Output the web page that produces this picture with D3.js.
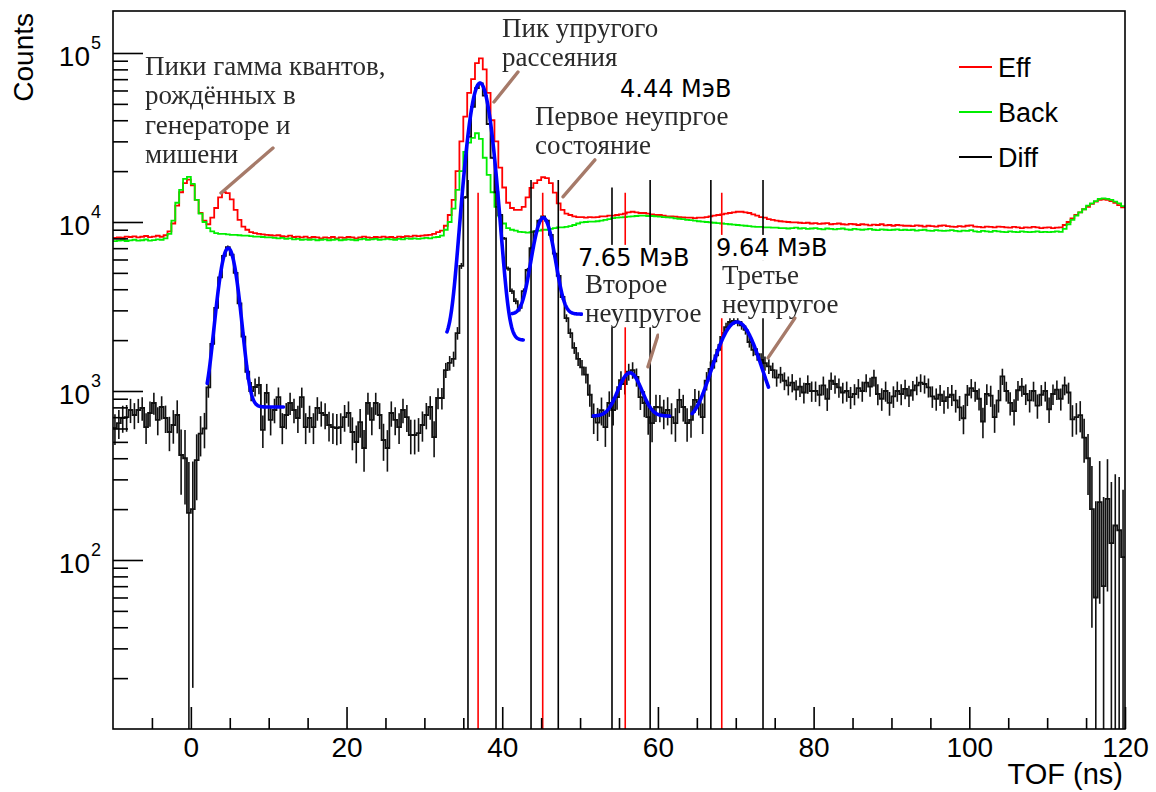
<!DOCTYPE html>
<html>
<head>
<meta charset="utf-8">
<script src="https://cdn.jsdelivr.net/npm/d3@7"></script>
<style>
  html, body { margin: 0; padding: 0; background: #fff; }
  svg { display: block; }
</style>
</head>
<body>
<svg id="chart" width="1156" height="792"></svg>
<script>
// Histogram binning (ns)
const binStart = -10;
const binWidth = 0.5;

// Eff spectrum, counts per 0.5 ns bin, -10 .. 120 ns (20 bins per row)
const effCounts = [
  8050, 8120, 8080, 8200, 8150, 8230, 8100, 8180, 8260, 8140, 8200, 8290, 8180, 8350, 8800, 9800, 12500, 15000, 17000, 17800,
  16500, 13500, 11300, 10200, 9700, 10600, 12100, 14000, 15000, 14800, 13600, 11800, 10300, 9400, 9000, 8700, 8600, 8500, 8450, 8400,
  8350, 8300, 8350, 8250, 8200, 8300, 8150, 8200, 8100, 8200, 8050, 8150, 8100, 8000, 8100, 8050, 8150, 8000, 8100, 8050,
  8150, 8100, 8000, 8100, 8200, 8100, 8050, 8150, 8100, 8200, 8100, 8150, 8050, 8200, 8150, 8250, 8200, 8300, 8250, 8300,
  8350, 8400, 8500, 8700, 8900, 9500, 11000, 13500, 20000, 30000, 42000, 58000, 70000, 87000, 93000, 80000, 58000, 40000, 30000, 21000,
  16000, 13000, 12100, 11800, 11800, 12300, 14000, 15900, 17000, 17700, 18400, 18200, 17000, 14900, 12900, 11800, 11200, 11000, 10800, 10700,
  10700, 10600, 10700, 10650, 10700, 10800, 10800, 10900, 10900, 11000, 11100, 11200, 11400, 11500, 11400, 11300, 11300, 11200, 11100, 11000,
  11000, 10900, 10800, 10800, 10750, 10700, 10650, 10600, 10600, 10550, 10600, 10600, 10700, 10800, 10900, 11000, 11100, 11200, 11300, 11400,
  11500, 11500, 11400, 11300, 11100, 10900, 10700, 10600, 10400, 10300, 10200, 10100, 10050, 10000, 9950, 9950, 9900, 9850, 9900, 9800,
  9850, 9750, 9800, 9850, 9700, 9750, 9800, 9700, 9650, 9750, 9700, 9600, 9700, 9650, 9550, 9650, 9600, 9700, 9550, 9600,
  9500, 9600, 9550, 9500, 9500, 9450, 9550, 9500, 9400, 9500, 9450, 9400, 9500, 9550, 9450, 9400, 9350, 9450, 9400, 9500,
  9550, 9400, 9350, 9300, 9400, 9350, 9300, 9400, 9350, 9300, 9250, 9350, 9300, 9200, 9300, 9250, 9350, 9300, 9200, 9250,
  9300, 9200, 9250, 9300, 9600, 10000, 10500, 11000, 11400, 11900, 12300, 12800, 13200, 13500, 13600, 13500, 13300, 13000, 12600, 12200
];

// Background spectrum, same binning
const backCounts = [
  7700, 7750, 7800, 7720, 7780, 7850, 7750, 7800, 7880, 7760, 7820, 7900, 7850, 8000, 8500, 10200, 13000, 15500, 18000, 18500,
  16800, 13500, 11200, 10000, 9200, 8800, 8600, 8500, 8500, 8450, 8400, 8400, 8350, 8300, 8300, 8250, 8200, 8200, 8150, 8100,
  8100, 8050, 8000, 8050, 7950, 8000, 7900, 7950, 7850, 7900, 7850, 7900, 7800, 7850, 7900, 7800, 7850, 7900, 7800, 7850,
  7900, 7850, 7800, 7900, 7950, 7850, 7900, 7950, 7850, 7900, 7950, 7900, 7850, 7950, 7900, 8000, 7950, 8000, 7950, 8000,
  8050, 8000, 8100, 8150, 8300, 9000, 10000, 12000, 15500, 20000, 26000, 29500, 31500, 33500, 31000, 24000, 19000, 15000, 12300, 10800,
  9800, 9200, 9000, 8900, 8750, 8700, 8650, 8700, 8800, 8900, 9000, 9000, 9100, 9200, 9300, 9300, 9350, 9450, 9600, 9800,
  9950, 10000, 10050, 10050, 10100, 10200, 10300, 10400, 10550, 10600, 10650, 10700, 10750, 10800, 10850, 10900, 10900, 10850, 10850, 10800,
  10750, 10700, 10650, 10600, 10500, 10450, 10400, 10300, 10250, 10200, 10100, 10050, 10000, 9950, 9900, 9850, 9800, 9750, 9700, 9650,
  9600, 9550, 9500, 9450, 9400, 9350, 9350, 9300, 9300, 9250, 9250, 9200, 9200, 9150, 9200, 9250, 9150, 9200, 9100, 9150,
  9200, 9100, 9050, 9150, 9100, 9050, 9100, 9150, 9050, 9000, 9100, 9050, 9000, 9050, 9100, 9000, 8950, 9050, 9000, 8950,
  9000, 9050, 8950, 9000, 8950, 9000, 8900, 8950, 9000, 8900, 8850, 8950, 8900, 8850, 8900, 8950, 8850, 8800, 8900, 8850,
  8950, 8800, 8750, 8850, 8800, 8750, 8850, 8800, 8750, 8700, 8800, 8750, 8700, 8800, 8750, 8700, 8750, 8800, 8700, 8750,
  8700, 8750, 8800, 8750, 9100, 9700, 10300, 10900, 11400, 11900, 12500, 12900, 13300, 13700, 13800, 13700, 13500, 13200, 12900, 12400
];

// Difference spectrum (Eff - Back), same binning
const diffCounts = [
  604, 646, 692, 700, 772, 721, 772, 793, 612, 741, 849, 674, 804, 692, 572, 629, 721, 418, 400, 190,
  200, 390, 560, 600, 1050, 1900, 3100, 4700, 6300, 7100, 6400, 5000, 3300, 2100, 1300, 1000, 1056, 1085, 588, 973,
  674, 772, 921, 612, 721, 849, 772, 692, 921, 612, 692, 612, 793, 741, 721, 629, 612, 604, 612, 700,
  741, 572, 499, 655, 460, 849, 674, 849, 721, 513, 460, 741, 674, 612, 772, 700, 549, 549, 564, 629,
  721, 804, 534, 909, 909, 1330, 1465, 1550, 2200, 5500, 14000, 32000, 48000, 62000, 66000, 56000, 38000, 24000, 15000, 11000,
  8000, 5300, 3900, 3400, 3100, 3900, 5200, 7000, 8800, 10200, 10800, 10200, 8400, 6500, 4800, 3600, 2700, 2200, 1800, 1550,
  1380, 1250, 950, 700, 650, 770, 612, 849, 772, 921, 1160, 1100, 1300, 1330, 1210, 921, 849, 700, 646, 804,
  800, 741, 772, 700, 646, 885, 804, 646, 674, 885, 860, 700, 1150, 1350, 1500, 1750, 2090, 2390, 2560, 2600,
  2560, 2450, 2300, 1950, 1750, 1650, 1530, 1460, 1400, 1330, 1200, 1250, 1150, 1080, 1120, 1020, 1060, 980, 1100, 1000,
  1000, 950, 1080, 900, 1150, 1100, 1050, 980, 1000, 920, 960, 1040, 1000, 1120, 1060, 1200, 960, 900, 1000, 850,
  930, 1000, 960, 1030, 940, 1010, 1080, 1120, 1100, 1050, 930, 900, 950, 870, 920, 950, 880, 800, 690, 950,
  1040, 1000, 900, 660, 960, 940, 700, 880, 1220, 1000, 850, 760, 1010, 1060, 960, 880, 1000, 820, 950, 1000,
  780, 960, 1020, 900, 1080, 980, 680, 700, 720, 530, 400, 200, 60, 220, 70, 230, 126, 160, 150, 104
];

// Gaussian + constant fits of the Diff peaks
const fitMean  = [4.8, 37.15, 45.27, 56.4, 70.15];
const fitSigma = [1.1, 1.27, 1.16, 1.35, 2.3];
const fitAmp   = [6200, 64400, 7750, 570, 1910];
const fitBase  = [804, 2000, 2850, 711, 650];
const fitFrom  = [2.1, 32.9, 41.3, 51.7, 64.4];
const fitTo    = [11.9, 42.7, 50.2, 61.5, 74.2];

// Integration windows (black) and peak positions (red)
const windowX   = [35.6, 39.2, 43.7, 47.2, 54.1, 59.0, 66.8, 73.5];
const windowTop = [17700, 17700, 17700, 17700, 16000, 17700, 17700, 17700];
const peakX     = [36.9, 45.2, 55.8, 68.2];
const peakTop   = [14900, 14900, 14900, 14900];

// Axis ticks and legend
const xTicksMajor = [0, 20, 40, 60, 80, 100, 120];
const xTicksMinor = [-5, 5, 10, 15, 25, 30, 35, 45, 50, 55, 65, 70, 75, 85, 90, 95, 105, 110, 115];
const yTickExponents = [2, 3, 4, 5];
const legendLabels = ["Eff", "Back", "Diff"];
const legendColors = ["#ff0000", "#00ee00", "#000000"];

// Text annotations (anchor at TOF ns / counts of first baseline)
const notes = [
  { lines: ["Пики гамма квантов,", "рождённых в", "генераторе и", "мишени"], x: -5.89, y: 74100, kind: "serif" },
  { lines: ["Пик упругого", "рассеяния"], x: 39.97, y: 124400, kind: "serif" },
  { lines: ["Первое неупргое", "состояние"], x: 44.21, y: 37500, kind: "serif" },
  { lines: ["Второе", "неупругое"], x: 50.63, y: 3800, kind: "serif" },
  { lines: ["Третье", "неупругое"], x: 68.23, y: 4300, kind: "serif" },
  { lines: ["4.44 МэВ"], x: 55.13, y: 54900, kind: "sans" },
  { lines: ["7.65 МэВ"], x: 49.73, y: 5500, kind: "sans" },
  { lines: ["9.64 МэВ"], x: 67.46, y: 6300, kind: "sans" }
];
// Pointer strokes: [x1, y1, x2, y2] in ns / counts
const pointers = [
  [10.55, 27400, 3.87, 14860],
  [42.02, 77200, 38.94, 51300],
  [51.91, 23300, 47.8, 14100],
  [60.0, 2140, 58.72, 1390],
  [77.6, 2700, 74.14, 1570]
];

// ---------------------------------------------------------------
const W = 1156, H = 792;
const margin = { left: 113, top: 11, right: 31, bottom: 63 };
const SANS = "'Liberation Sans', Arial, Helvetica, sans-serif";
const SERIF = "'Liberation Serif', 'Times New Roman', serif";
const LABEL = "'DejaVu Sans', Verdana, sans-serif";

const svg = d3.select("#chart");
const x = d3.scaleLinear().domain([-10, 120]).range([margin.left, W - margin.right]);
const y = d3.scaleLog().domain([10, 177200]).range([H - margin.bottom, margin.top]);

const defs = svg.append("defs");
defs.append("clipPath").attr("id", "plotClip")
  .append("rect")
  .attr("x", margin.left).attr("y", margin.top)
  .attr("width", W - margin.left - margin.right)
  .attr("height", H - margin.top - margin.bottom);
defs.append("filter").attr("id", "soft")
  .append("feGaussianBlur").attr("stdDeviation", 0.45);

const plot = svg.append("g").attr("clip-path", "url(#plotClip)");

const yc = v => y(Math.max(v, 1));
const stepLine = d3.line().x(d => x(d[0])).y(d => yc(d[1])).curve(d3.curveStepAfter);
function stepPoints(vals) {
  const pts = vals.map((v, i) => [binStart + i * binWidth, v]);
  pts.push([binStart + vals.length * binWidth, vals[vals.length - 1]]);
  return pts;
}

// Eff and Back histograms
plot.append("path").attr("d", stepLine(stepPoints(effCounts)))
  .attr("fill", "none").attr("stroke", legendColors[0]).attr("stroke-width", 1.8);
plot.append("path").attr("d", stepLine(stepPoints(backCounts)))
  .attr("fill", "none").attr("stroke", legendColors[1]).attr("stroke-width", 1.8);

// Diff histogram: statistical error bars + outline
const errG = plot.append("g").attr("stroke", "#111").attr("stroke-width", 1.6);
diffCounts.forEach((v, i) => {
  const err = Math.sqrt(effCounts[i] + backCounts[i]);
  const xc = binStart + (i + 0.5) * binWidth;
  errG.append("line")
    .attr("x1", x(xc)).attr("x2", x(xc))
    .attr("y1", yc(v - err)).attr("y2", yc(v + err));
});
plot.append("path").attr("d", stepLine(stepPoints(diffCounts)))
  .attr("fill", "none").attr("stroke", "#111").attr("stroke-width", 1.8);

// Window and peak markers
windowX.forEach((wx, i) => {
  plot.append("line").attr("x1", x(wx)).attr("x2", x(wx))
    .attr("y1", y(10)).attr("y2", y(windowTop[i]))
    .attr("stroke", "#000").attr("stroke-width", 1.6);
});
peakX.forEach((px, i) => {
  plot.append("line").attr("x1", x(px)).attr("x2", x(px))
    .attr("y1", y(10)).attr("y2", y(peakTop[i]))
    .attr("stroke", "#ff0000").attr("stroke-width", 1.6);
});

// Fit curves
const fitLine = d3.line().x(d => x(d[0])).y(d => y(d[1])).curve(d3.curveLinear);
fitMean.forEach((mu, i) => {
  const ts = d3.range(fitFrom[i], fitTo[i], 0.05).concat([fitTo[i]]);
  const pts = ts.map(t => [t, fitBase[i] + fitAmp[i] * Math.exp(-0.5 * Math.pow((t - mu) / fitSigma[i], 2))]);
  plot.append("path").attr("d", fitLine(pts))
    .attr("fill", "none").attr("stroke", "#0000ff").attr("stroke-width", 3.6)
    .attr("stroke-linecap", "round");
});

// Annotations with white backing
const noteLayer = svg.append("g");
notes.forEach(n => {
  const g = noteLayer.append("g");
  const isSerif = n.kind === "serif";
  const fs = isSerif ? 27 : 24;
  const lh = isSerif ? 29.3 : 28;
  const t = g.append("text")
    .attr("x", x(n.x)).attr("y", y(n.y))
    .attr("font-family", isSerif ? SERIF : LABEL)
    .attr("font-size", fs)
    .attr("fill", isSerif ? "#2a2a2a" : "#000");
  n.lines.forEach((ln, j) => {
    t.append("tspan").attr("x", x(n.x)).attr("dy", j === 0 ? 0 : lh).text(ln);
  });
  if (isSerif) t.attr("filter", "url(#soft)");
  const bb = t.node().getBBox();
  g.insert("rect", "text")
    .attr("x", bb.x - 2).attr("y", bb.y + 1)
    .attr("width", bb.width + 4).attr("height", bb.height - 2)
    .attr("fill", "#fff");
});

// Pointer strokes
pointers.forEach(p => {
  noteLayer.append("line")
    .attr("x1", x(p[0])).attr("y1", y(p[1]))
    .attr("x2", x(p[2])).attr("y2", y(p[3]))
    .attr("stroke", "#a67a69").attr("stroke-width", 3.4)
    .attr("stroke-linecap", "round").attr("filter", "url(#soft)");
});

// Legend
const legend = svg.append("g");
legendLabels.forEach((lab, i) => {
  const ly = 67 + i * 45;
  legend.append("line").attr("x1", 959).attr("x2", 992).attr("y1", ly).attr("y2", ly)
    .attr("stroke", legendColors[i]).attr("stroke-width", 2);
  legend.append("text").attr("x", 998).attr("y", ly + 9.5)
    .attr("font-family", SANS).attr("font-size", 27).attr("fill", "#000").text(lab);
});

// Axes
const axisStyle = g => {
  g.select(".domain").remove();
  g.selectAll(".tick line").attr("stroke", "#000").attr("stroke-width", 1.6);
};
const y0 = H - margin.bottom;

svg.append("g").attr("transform", `translate(0,${y0})`)
  .call(d3.axisBottom(x).tickValues(xTicksMinor).tickSize(-11).tickFormat(""))
  .call(axisStyle);
svg.append("g").attr("transform", `translate(0,${y0})`)
  .call(d3.axisBottom(x).tickValues(xTicksMajor).tickSize(-22).tickPadding(8).tickFormat(d3.format("d")))
  .call(axisStyle)
  .call(g => g.selectAll(".tick text")
    .attr("font-family", SANS).attr("font-size", 28).attr("fill", "#000"));

const yMinor = [];
for (let e = 1; e <= 5; e++) {
  for (let m = 2; m <= 9; m++) {
    const v = m * Math.pow(10, e);
    if (v < y.domain()[1]) yMinor.push(v);
  }
}
const yMajor = yTickExponents.map(e => Math.pow(10, e));
svg.append("g").attr("transform", `translate(${margin.left},0)`)
  .call(d3.axisLeft(y).tickValues(yMinor).tickSize(-15).tickFormat(""))
  .call(axisStyle);
svg.append("g").attr("transform", `translate(${margin.left},0)`)
  .call(d3.axisLeft(y).tickValues(yMajor).tickSize(-30).tickFormat(""))
  .call(axisStyle)
  .call(g => g.selectAll(".tick").each(function (d) {
    const tk = d3.select(this);
    tk.append("text").attr("x", 90 - margin.left).attr("y", 13)
      .attr("text-anchor", "end").attr("font-family", SANS).attr("font-size", 28)
      .attr("fill", "#000").text("10");
    tk.append("text").attr("x", 91 - margin.left).attr("y", -4)
      .attr("text-anchor", "start").attr("font-family", SANS).attr("font-size", 18)
      .attr("fill", "#000").text(String(Math.round(Math.log10(d))));
  }));

// Frame
svg.append("rect")
  .attr("x", margin.left).attr("y", margin.top)
  .attr("width", W - margin.left - margin.right)
  .attr("height", H - margin.top - margin.bottom)
  .attr("fill", "none").attr("stroke", "#000").attr("stroke-width", 1.6);

// Axis titles
svg.append("text")
  .attr("x", W - margin.right - 2).attr("y", 784)
  .attr("text-anchor", "end").attr("font-family", SANS).attr("font-size", 29)
  .attr("fill", "#000").text("TOF (ns)");
svg.append("text")
  .attr("transform", `translate(33,${margin.top + 2}) rotate(-90)`)
  .attr("text-anchor", "end").attr("font-family", SANS).attr("font-size", 28)
  .attr("fill", "#000").text("Counts");
</script>
</body>
</html>
